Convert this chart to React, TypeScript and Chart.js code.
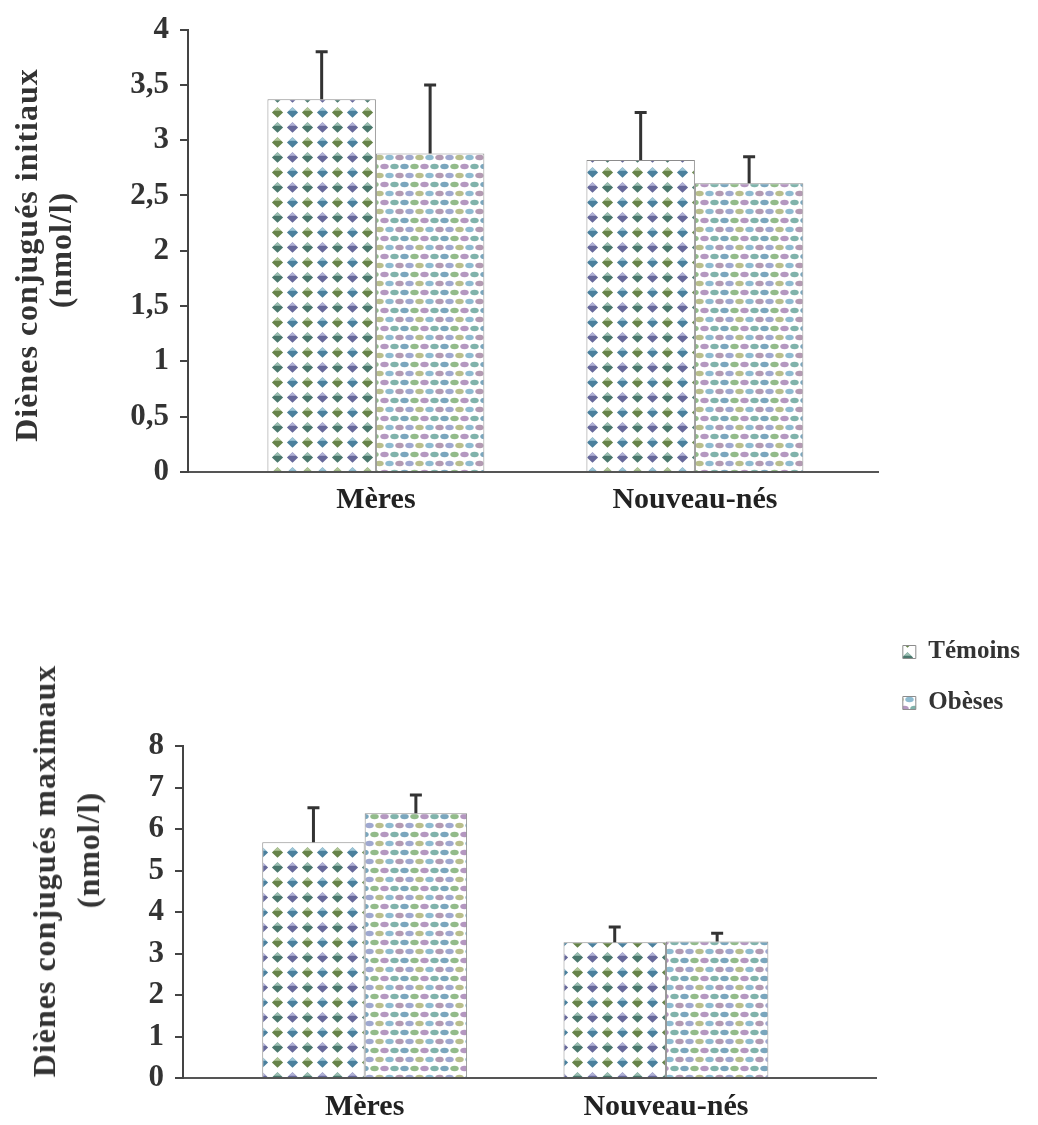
import React, { useEffect, useRef } from 'react';
import { Chart, registerables } from 'chart.js';

Chart.register(...registerables);

// ---------- data ----------
const categories = ['Mères', 'Nouveau-nés'];
const seriesNames = ['Témoins', 'Obèses'];

// Diènes conjugués initiaux (nmol/l)
const initTemoins = [3.37, 2.82];
const initObeses = [2.88, 2.61];
const initTemoinsErr = [0.43, 0.43];
const initObesesErr = [0.62, 0.24];
const initYMax = 4;
const initYStep = 0.5;

// Diènes conjugués maximaux (nmol/l)
const maxTemoins = [5.68, 3.27];
const maxObeses = [6.38, 3.29];
const maxTemoinsErr = [0.83, 0.37];
const maxObesesErr = [0.44, 0.2];
const maxYMax = 8;
const maxYStep = 1;

const topTitle = ['Diènes conjugués initiaux', '(nmol/l)'];
const bottomTitle = ['Diènes conjugués maximaux', '(nmol/l)'];

// ---------- styling ----------
const FAMILY = "'Liberation Serif', 'Times New Roman', serif";

function makeTemoinsPattern(): CanvasPattern | string {
  const s = 15;
  const c = document.createElement('canvas');
  c.width = s * 2;
  c.height = s * 2;
  const ctx = c.getContext('2d');
  if (!ctx) return '#6f8f8a';
  ctx.fillStyle = '#ffffff';
  ctx.fillRect(0, 0, c.width, c.height);
  const cols = [
    ['#4a786d', '#9cc0b4'],
    ['#66689a', '#b3b3d8'],
    ['#66834a', '#b2c79a'],
    ['#4a809d', '#a0c7d8'],
  ];
  for (let r = 0; r < 2; r++) {
    for (let q = 0; q < 2; q++) {
      const cx = q * s + s / 2;
      const cy = r * s + s / 2;
      const [dark, light] = cols[r * 2 + q];
      ctx.beginPath();
      ctx.moveTo(cx, cy - 5.3);
      ctx.lineTo(cx + 5.6, cy);
      ctx.lineTo(cx, cy + 5.3);
      ctx.lineTo(cx - 5.6, cy);
      ctx.closePath();
      ctx.fillStyle = dark;
      ctx.fill();
      ctx.beginPath();
      ctx.moveTo(cx, cy - 5.3);
      ctx.lineTo(cx + 3.8, cy - 1.7);
      ctx.lineTo(cx - 3.8, cy - 1.7);
      ctx.closePath();
      ctx.fillStyle = light;
      ctx.fill();
    }
  }
  return ctx.createPattern(c, 'repeat') || '#6f8f8a';
}

function makeObesesPattern(): CanvasPattern | string {
  const W = 40;
  const H = 36;
  const c = document.createElement('canvas');
  c.width = W;
  c.height = H;
  const ctx = c.getContext('2d');
  if (!ctx) return '#a9c4c8';
  ctx.fillStyle = '#ffffff';
  ctx.fillRect(0, 0, W, H);
  const cols = ['#7aa6bd', '#92bb8a', '#b497c0', '#80b3ab', '#9fa8d0', '#b8be8c', '#8ebbd0', '#b39ab2'];
  let k = 0;
  for (let r = 0; r < 4; r++) {
    const y = r * 9 + 2;
    const off = (r % 2) * 5;
    for (let q = 0; q < 4; q++) {
      const x = q * 10 + off + 1;
      ctx.fillStyle = cols[k % cols.length];
      k++;
      for (const dx of [0, -W]) {
        ctx.beginPath();
        ctx.ellipse(x + dx + 3.5, y + 2.5, 4.2, 2.8, 0, 0, Math.PI * 2);
        ctx.fill();
      }
    }
  }
  return ctx.createPattern(c, 'repeat') || '#a9c4c8';
}

function makeErrorPlugin(errs: number[][]) {
  return {
    id: 'errorBars',
    afterDatasetsDraw(chart: any) {
      const yScale = chart.scales.y;
      const ctx = chart.ctx as CanvasRenderingContext2D;
      ctx.save();
      ctx.strokeStyle = '#333333';
      ctx.lineWidth = 3;
      chart.data.datasets.forEach((ds: any, i: number) => {
        const meta = chart.getDatasetMeta(i);
        meta.data.forEach((bar: any, j: number) => {
          const v = ds.data[j].y;
          const e = errs[i][j];
          const x = bar.x;
          const y0 = bar.y;
          const y1 = yScale.getPixelForValue(v + e);
          ctx.beginPath();
          ctx.moveTo(x, y0);
          ctx.lineTo(x, y1);
          ctx.moveTo(x - 6, y1);
          ctx.lineTo(x + 6, y1);
          ctx.stroke();
        });
      });
      ctx.restore();
    },
  };
}

type ChartProps = {
  top: number;
  height: number;
  values: number[][];
  errors: number[][];
  yMax: number;
  yStep: number;
  xMin: number;
  xMax: number;
  axisLeft: number;
  xAxisHeight: number;
  xLabelPad: number;
  padding: { top: number; right: number; left: number; bottom: number };
  showLegend: boolean;
  spacerHeight: number;
};

function BarChart(p: ChartProps) {
  const ref = useRef<HTMLCanvasElement>(null);
  useEffect(() => {
    if (!ref.current) return;
    const patterns = [makeTemoinsPattern(), makeObesesPattern()];
    const datasets = seriesNames.map((name, si) => ({
      label: name,
      data: categories.map((_, ci) => ({ x: ci + 1, y: p.values[si][ci] })),
      backgroundColor: patterns[si],
      borderColor: '#8c8c8c',
      borderWidth: 1,
      categoryPercentage: 0.68,
      barPercentage: 1,
    }));
    const tickFont = { family: FAMILY, size: 31, weight: 'bold' as const };
    const chart = new Chart(ref.current, {
      type: 'bar',
      data: { datasets } as any,
      options: {
        animation: false,
        responsive: false,
        layout: { padding: p.padding },
        plugins: {
          tooltip: { enabled: false },
          title: p.spacerHeight > 0
            ? {
                display: true,
                text: '',
                fullSize: false,
                position: 'top',
                font: { size: 10 },
                padding: { top: 0, bottom: p.spacerHeight - 12 },
              }
            : { display: false },
          legend: p.showLegend
            ? {
                display: true,
                position: 'right',
                align: 'start',
                labels: {
                  boxWidth: 13,
                  boxHeight: 13,
                  padding: 26,
                  color: '#333333',
                  font: { family: FAMILY, size: 25, weight: 'bold' },
                },
              }
            : { display: false },
        },
        scales: {
          x: {
            type: 'linear',
            offset: false,
            min: p.xMin,
            max: p.xMax,
            afterBuildTicks: (s: any) => {
              s.ticks = categories.map((_, i) => ({ value: i + 1 }));
            },
            afterFit: (s: any) => {
              s.height = p.xAxisHeight;
            },
            grid: { display: false, drawTicks: false, offset: false },
            border: { display: true, color: '#555555', width: 2 },
            ticks: {
              autoSkip: false,
              maxRotation: 0,
              padding: p.xLabelPad,
              color: '#222222',
              font: { family: FAMILY, size: 30, weight: 'bold' },
              callback: (v: any) => categories[Math.round(Number(v)) - 1] ?? '',
            },
          },
          y: {
            min: 0,
            max: p.yMax,
            afterFit: (s: any) => {
              s.width = p.axisLeft;
            },
            grid: {
              drawOnChartArea: false,
              drawTicks: true,
              tickLength: 8,
              color: '#444444',
              lineWidth: 2,
            },
            border: { display: true, color: '#444444', width: 2 },
            ticks: {
              stepSize: p.yStep,
              padding: 11,
              color: '#333333',
              font: tickFont,
              callback: (v: any) => String(v).replace('.', ','),
            },
          },
        },
      } as any,
      plugins: [makeErrorPlugin(p.errors)],
    });
    return () => chart.destroy();
  }, []);
  return (
    <canvas
      ref={ref}
      width={1038}
      height={p.height}
      style={{ position: 'absolute', left: 0, top: p.top, width: 1038, height: p.height, display: 'block' }}
    />
  );
}

function AxisTitleLine(props: { text: string; cx: number; cy: number }) {
  return (
    <div
      style={{
        position: 'absolute',
        left: props.cx,
        top: props.cy,
        transform: 'translate(-50%, -50%) rotate(-90deg)',
        whiteSpace: 'nowrap',
        fontFamily: FAMILY,
        fontWeight: 'bold',
        fontSize: 32,
        lineHeight: '34px',
        letterSpacing: 1,
        color: '#333333',
      }}
    >
      {props.text}
    </div>
  );
}

export default function App() {
  return (
    <div
      style={{
        position: 'absolute',
        left: 0,
        top: 0,
        width: 1038,
        height: 1125,
        background: '#ffffff',
        overflow: 'hidden',
      }}
    >
      <BarChart
        top={0}
        height={540}
        values={[initTemoins, initObeses]}
        errors={[initTemoinsErr, initObesesErr]}
        yMax={initYMax}
        yStep={initYStep}
        xMin={0.411}
        xMax={2.574}
        axisLeft={188}
        xAxisHeight={68}
        xLabelPad={10}
        padding={{ top: 24, right: 160, left: 0, bottom: 0 }}
        showLegend={false}
        spacerHeight={0}
      />
      <BarChart
        top={560}
        height={565}
        values={[maxTemoins, maxObeses]}
        errors={[maxTemoinsErr, maxObesesErr]}
        yMax={maxYMax}
        yStep={maxYStep}
        xMin={0.397}
        xMax={2.70}
        axisLeft={183}
        xAxisHeight={47}
        xLabelPad={11}
        padding={{ top: 53.5, right: 8, left: 0, bottom: 0 }}
        showLegend={true}
        spacerHeight={132.5}
      />
      <AxisTitleLine text={topTitle[0]} cx={26} cy={255} />
      <AxisTitleLine text={topTitle[1]} cx={60} cy={250} />
      <AxisTitleLine text={bottomTitle[0]} cx={44} cy={871} />
      <AxisTitleLine text={bottomTitle[1]} cx={88} cy={850} />
    </div>
  );
}
